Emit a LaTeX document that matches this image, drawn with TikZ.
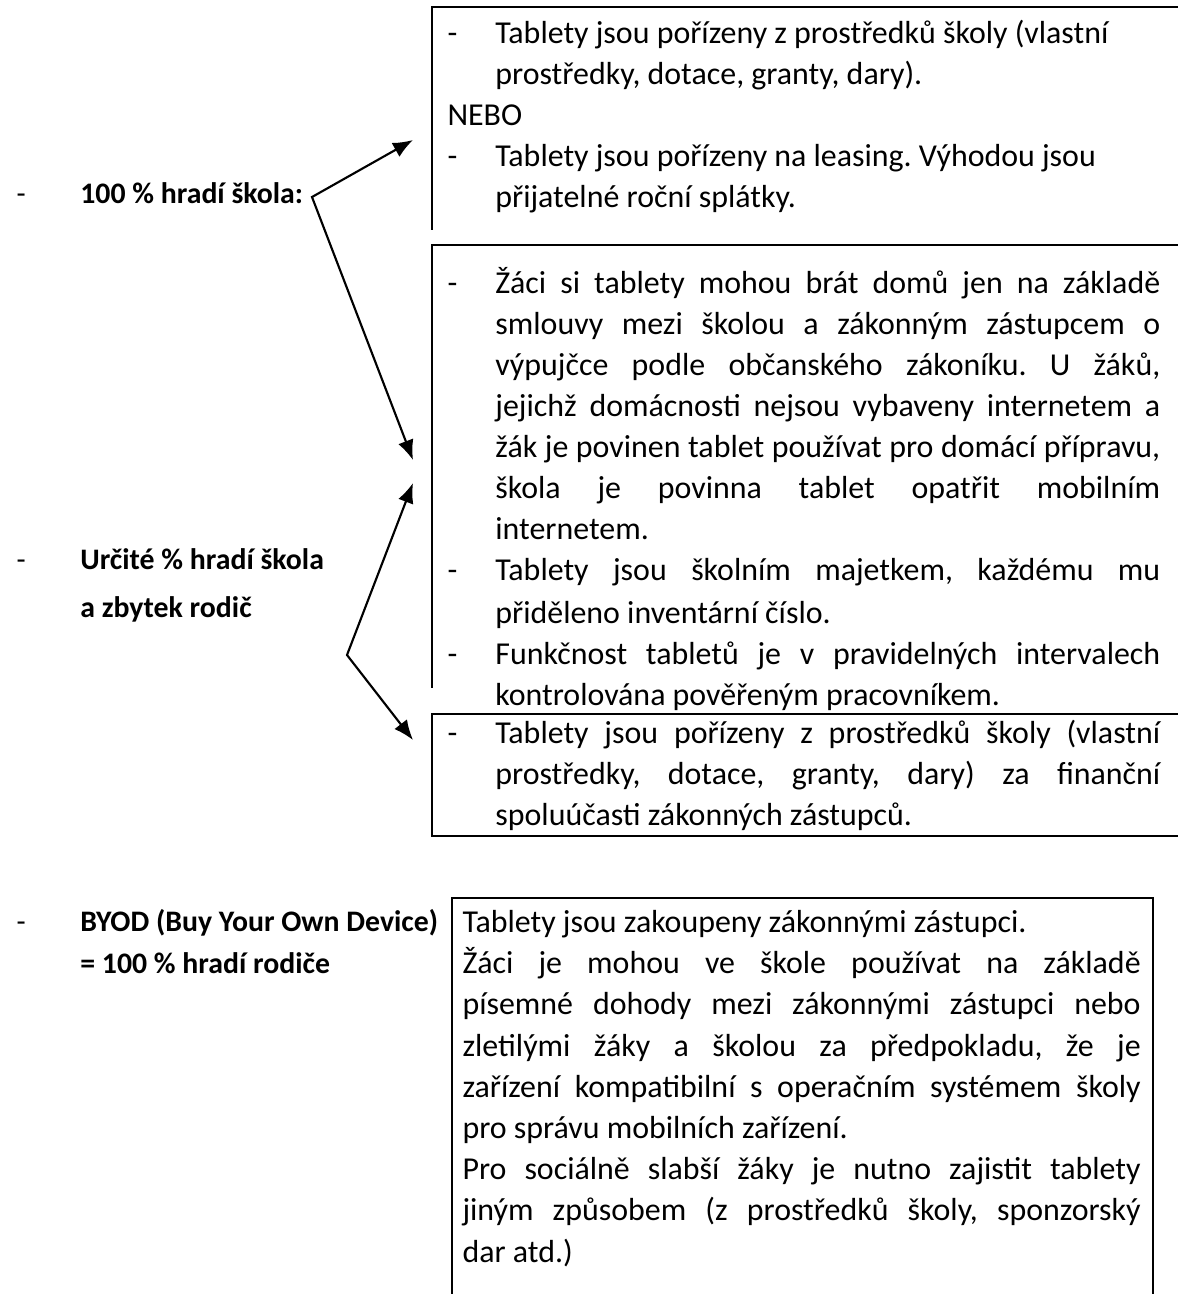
\documentclass[tikz,border=0pt]{standalone}
\usepackage{fontspec}
\setmainfont{Carlito}
\usetikzlibrary{arrows.meta}
\frenchspacing
\def \hang{18pt}
\def \lhang{24pt}
\newcommand\dashitem{\par\noindent\hangindent=\hang\hangafter=1\strut\makebox[\hang][l]{-}}
\newcommand\dashlabel{\par\noindent\hangindent=\lhang\hangafter=1\strut\makebox[\lhang][l]{\mdseries-}}

\begin{document}
\begin{tikzpicture}[x=0.376pt, y=-0.376pt,
    boxtext/.style={anchor=north west, inner sep=0pt, align=justify,
      font=\fontsize{12}{15.4}\selectfont},
    lefttext/.style={anchor=north west, inner sep=0pt, align=justify, text width=200pt,
      font=\fontsize{11.2}{18}\selectfont\bfseries},
    boxline/.style={line width=0.8pt},
    fork/.style={line width=0.8pt, {Latex[length=7.5pt,width=6pt]}-{Latex[length=7.5pt,width=6pt]}}]
    \useasboundingbox (0,0) rectangle (1178,1294);

    % frames
    \draw[boxline] (1178,7) -- (432,7) -- (432,230);
    \draw[boxline] (1178,245) -- (432,245) -- (432,688);
    \draw[boxline] (1178,714) -- (432,714) -- (432,836) -- (1178,836);
    \draw[boxline] (452,1294) -- (452,898) -- (1153,898) -- (1153,1294);

    % left side
    \node[lefttext] (full) at (16,155) {\dashlabel 100~\% hradí škola:\par};
    \node[lefttext] (part) at (16,521) {\dashlabel Určité \% hradí škola\hfil\break a zbytek rodič\par};
    \node[lefttext, font=\fontsize{11.2}{16}\selectfont\bfseries] (byod) at (16,888)
      {\dashlabel BYOD (Buy Your Own Device)\hfil\break = 100~\% hradí rodiče\par};

    % right side
    \node[boxtext, text width=270pt] (own) at (447,2) {%
      \dashitem Tablety jsou pořízeny z prostředků školy (vlastní\hfil\break
      prostředky, dotace, granty, dary).
      \par\noindent\strut NEBO
      \dashitem Tablety jsou pořízeny na leasing. Výhodou jsou\hfil\break
      přijatelné roční splátky.\par};
    \node[boxtext, text width=268pt] (rules) at (447,252) {%
      \dashitem Žáci si tablety mohou brát domů jen na základě\linebreak
      smlouvy mezi školou a zákonným zástupcem o\linebreak
      výpujčce podle občanského zákoníku. U žáků,\linebreak
      jejichž domácnosti nejsou vybaveny internetem a\linebreak
      žák je povinen tablet používat pro domácí přípravu,\linebreak
      škola je povinna tablet opatřit mobilním\linebreak
      internetem.
      \dashitem Tablety jsou školním majetkem, každému mu\vadjust{\vskip0.8pt}\linebreak
      přiděleno inventární číslo.
      \dashitem Funkčnost tabletů je v pravidelných intervalech\linebreak
      kontrolována pověřeným pracovníkem.\par};
    \node[boxtext, text width=268pt] (share) at (447,702) {%
      \dashitem Tablety jsou pořízeny z prostředků školy (vlastní\linebreak
      prostředky, dotace, granty, dary) za finanční\linebreak
      spoluúčasti zákonných zástupců.\par};
    \node[boxtext, text width=255pt, font=\fontsize{12}{15.5}\selectfont] (parents) at (462,903) {%
      \strut Tablety jsou zakoupeny zákonnými zástupci.\par
      Žáci je mohou ve škole používat na základě\linebreak
      písemné dohody mezi zákonnými zástupci nebo\linebreak
      zletilými žáky a školou za předpokladu, že je\linebreak
      zařízení kompatibilní s operačním systémem školy\linebreak
      pro správu mobilních zařízení.\par
      Pro sociálně slabší žáky je nutno zajistit tablety\linebreak
      jiným způsobem (z prostředků školy, sponzorský\linebreak
      dar atd.)\par};

    % arrows
    \coordinate (v1) at (312,197);
    \coordinate (t1u) at (413,140);
    \coordinate (t1d) at (413,460);
    \coordinate (v2) at (347,655);
    \coordinate (t2u) at (413,483);
    \coordinate (t2d) at (413,740);
    \draw[fork] (t1u) -- (v1) -- (t1d);
    \draw[fork] (t2u) -- (v2) -- (t2d);
\end{tikzpicture}
\end{document}
